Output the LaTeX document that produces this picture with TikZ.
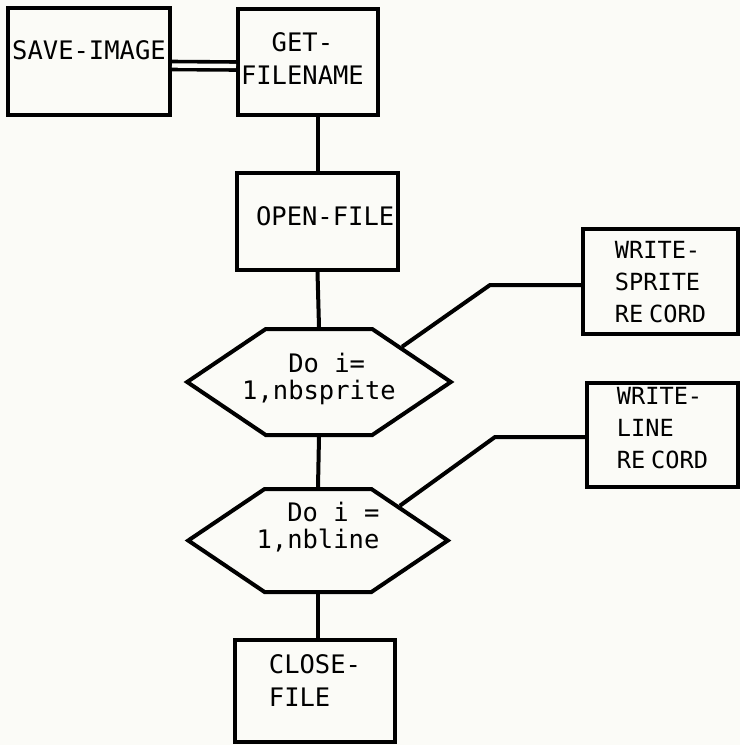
\documentclass[tikz,border=0pt]{standalone}
\usepackage{fontspec}
\setmonofont{DejaVu Sans Mono}
\usepackage{tikz}
\usetikzlibrary{positioning,shapes.symbols}
\definecolor{paper}{RGB}{251,251,247}
\tikzset{
  procbox/.style={draw=black, line width=2pt, rectangle, align=left, inner sep=0pt,
                  font=\ttfamily\fontsize{12.75}{16.5}\selectfont},
  recbox/.style={procbox, font=\ttfamily\fontsize{11.8}{16}\selectfont},
  loopnode/.style={draw=black, line width=2pt, signal, signal to=east and west,
                   signal pointer angle=68, align=left, inner ysep=0pt,
                   font=\ttfamily\fontsize{12.75}{13.5}\selectfont},
  link/.style={line width=2pt, black},
  lift/.style={text depth=#1}
}
\begin{document}
\begin{tikzpicture}[x=0.5pt, y=-0.5pt]
  \useasboundingbox (0,0) rectangle (740,745);
  \fill[paper] (0,0) rectangle (740,745);

  % Main flow
  \node[procbox, minimum width=81pt, minimum height=53.5pt, lift=11.5pt]
        (save) at (89,61.5) {SAVE-IMAGE};
  \node[procbox, text width=67pt, inner xsep=1.5pt, minimum height=53pt, lift=20pt]
        (getname) at (308,62) {\phantom{GE}GET-\\FILENAME};
  \node[procbox, minimum width=80.5pt, minimum height=48.5pt, lift=5.5pt]
        (openfile) at (317.5,221.5) {\phantom{O}OPEN-FILE};
  \node[loopnode, inner xsep=-11.75pt, minimum height=53pt, lift=5.5pt]
        (loopsprite) at (319,382) {\phantom{Do }Do i=\\1,nbsprite};
  \node[loopnode, inner xsep=-4pt, minimum height=51.5pt, lift=15pt]
        (loopline) at (318,540.5) {\phantom{xx}Do i =\\1,nbline};
  \node[procbox, minimum width=80pt, minimum height=51pt, lift=10pt]
        (closefile) at (315,691) {CLOSE-\\FILE};

  % Record writers
  \node[recbox, minimum width=77.5pt, minimum height=52.5pt, lift=0pt]
        (sprite) at (660.5,281.5) {WRITE-\\SPRITE\\RE\kern.25em CORD};
  \node[recbox, minimum width=75.5pt, minimum height=52pt, lift=7.5pt]
        (recline) at (662.5,435) {WRITE-\\LINE\\RE\kern.25em CORD};

  % Links
  \draw[link, line width=1.8pt, double=paper, double distance=2.2pt]
        ([yshift=-2pt]save.east) -- ([yshift=-2pt]getname.west);
  \draw[link] (openfile.north) -- (openfile.north |- getname.south);
  \draw[link] (openfile.south) -- (loopsprite.north);
  \draw[link] (loopsprite.south) -- (loopline.north);
  \draw[link] (loopline.south) -- (loopline.south |- closefile.north);

  \coordinate (bendsprite) at (490,285);
  \coordinate (bendline) at (495,437);
  \draw[link] (loopsprite.23) -- (bendsprite) -- (bendsprite -| sprite.west);
  \draw[link] (loopline.23) -- (bendline) -- (bendline -| recline.west);
\end{tikzpicture}
\end{document}
